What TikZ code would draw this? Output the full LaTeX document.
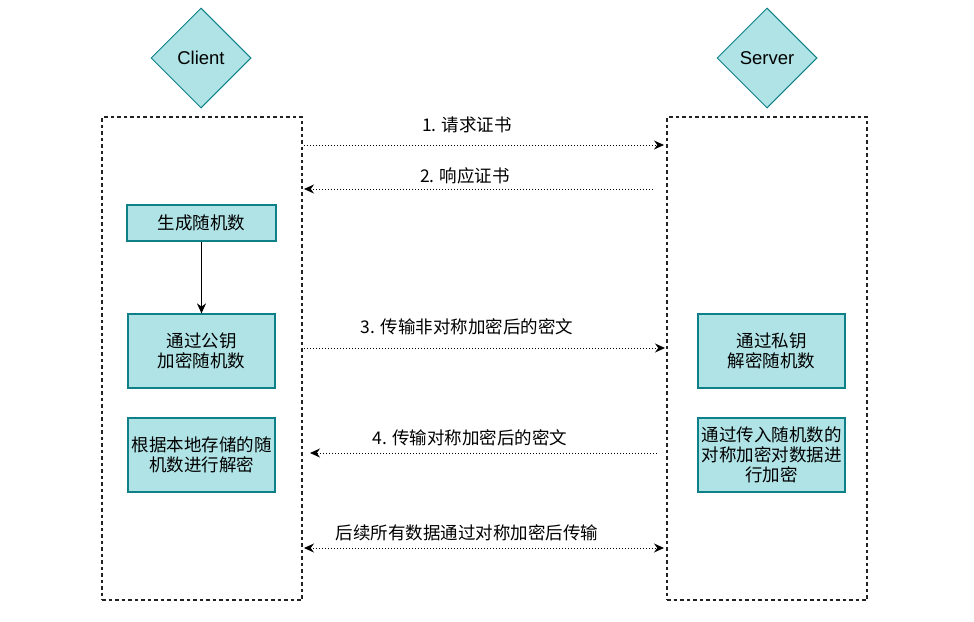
\documentclass[tikz,border=0pt]{standalone}
\usepackage{fontspec}
\setmainfont{Liberation Sans}
\newfontfamily\cjk{Noto Sans CJK SC}
\usetikzlibrary{shapes.geometric,arrows.meta}
\definecolor{tealfill}{HTML}{B0E3E6}
\definecolor{tealline}{HTML}{0E8088}
\definecolor{dashgray}{HTML}{222222}
\tikzset{
  tip/.style={-{Stealth[length=10pt,width=9pt]}},
  role/.style={shape=diamond, aspect=1, draw=tealline, fill=tealfill, line width=1pt,
    minimum width=100pt, minimum height=100pt, inner sep=0pt,
    font=\fontsize{18.5}{22}\selectfont},
  lane/.style={draw=dashgray, line width=1.2pt, dash pattern=on 3.5pt off 3pt,
    minimum width=200pt, minimum height=483pt, inner sep=0pt},
  stepbox/.style={draw=tealline, fill=tealfill, line width=1.2pt, align=center,
    inner sep=0pt, minimum width=147pt, font=\cjk\fontsize{17.5}{20}\selectfont},
  msg/.style={dotted, line width=1pt, tip},
  msgtext/.style={font=\cjk\fontsize{17.5}{20}\selectfont, inner sep=0pt}
}
\begin{document}
\begin{tikzpicture}[x=1pt,y=-1pt]
\useasboundingbox (0,0) rectangle (974,621);
% actors
\node[role] (client) at (201,58) {Client};
\node[role] (server) at (767,58) {Server};
% lanes
\node[lane] (clane) at (202,358.5) {};
\node[lane] (slane) at (767,358.5) {};
% client steps
\node[stepbox, minimum width=149pt, minimum height=36pt] (gen) at (201.5,223) {生成随机数};
\node[stepbox, minimum height=74pt] (enc) at (201.5,351) {通过公钥\\加密随机数};
\node[stepbox, minimum height=74pt] (dec) at (201.5,455) {根据本地存储的随\\机数进行解密};
% server steps
\node[stepbox, minimum height=74pt] (sdec) at (771.5,351) {通过私钥\\解密随机数};
\node[stepbox, minimum height=74pt] (senc) at (771.5,455) {通过传入随机数的\\对称加密对数据进\\行加密};
\draw[line width=1pt, tip] (gen) -- (enc);
% message endpoints
\coordinate (m1a) at (304,145);   \coordinate (m1b) at (664,145);
\coordinate (m2a) at (653,189);   \coordinate (m2b) at (304,189);
\coordinate (m3a) at (304,348);   \coordinate (m3b) at (665,348);
\coordinate (m4a) at (657,453);   \coordinate (m4b) at (310,453);
\coordinate (m5a) at (304,548);   \coordinate (m5b) at (664,548);
\draw[msg] (m1a) -- (m1b);
\draw[msg] (m2a) -- (m2b);
\draw[msg] (m3a) -- (m3b);
\draw[msg] (m4a) -- (m4b);
\draw[msg, {Stealth[length=10pt,width=9pt]}-{Stealth[length=10pt,width=9pt]}] (m5a) -- (m5b);
% labels
\node[msgtext] (t1) at (467,125) {1. 请求证书};
\node[msgtext] (t2) at (465,176) {2. 响应证书};
\node[msgtext] (t3) at (467,327) {3. 传输非对称加密后的密文};
\node[msgtext] (t4) at (470,438) {4. 传输对称加密后的密文};
\node[msgtext] (t5) at (467,533) {后续所有数据通过对称加密后传输};
\end{tikzpicture}
\end{document}
